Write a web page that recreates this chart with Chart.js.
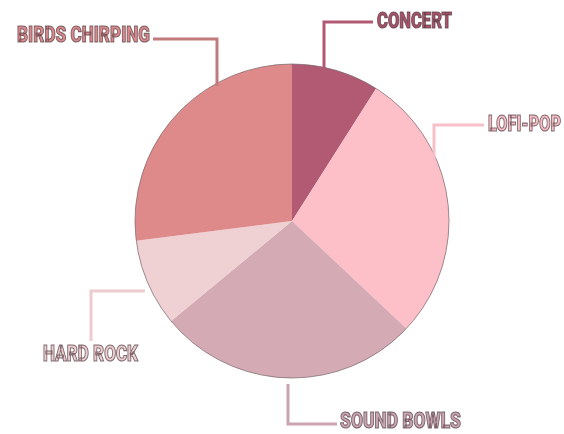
<!DOCTYPE html>
<html>
<head>
<meta charset="utf-8">
<script src="https://cdn.jsdelivr.net/npm/chart.js@4"></script>
<style>
  html, body { margin: 0; padding: 0; background: #fff; }
  #wrap { width: 564px; height: 434px; }
</style>
</head>
<body>
<div id="wrap"><canvas id="pieChart" width="564" height="434"></canvas></div>
<script>
let chartInstance;

const soundNames = ['CONCERT', 'LOFI-POP', 'SOUND BOWLS', 'HARD ROCK', 'BIRDS CHIRPING'];
const soundShares = [9, 28, 27, 9, 27];
const sliceColors = ['#b25a74', '#fdbfc8', '#d4aab5', '#efd0d3', '#df8a8a'];
const lineColors = ['#b25a74', '#f7bfc8', '#c9a5b1', '#ecccd0', '#c27b7d'];
const textColors = ['#a9516b', '#f4bcc5', '#caa6b2', '#eccdd1', '#da898d'];

// label text anchor (left, middle), width it is squeezed to, elbow connector
const labelLayout = [
    { text: [377, 21], width: 75, path: [[324, 70], [324, 22], [373, 22]] },
    { text: [488, 124], width: 73, path: [[434, 160], [434, 125], [484, 125]] },
    { text: [340, 421], width: 121, path: [[288, 384], [288, 424], [337, 424]] },
    { text: [43, 354], width: 95, path: [[145, 291], [91, 291], [91, 341]] },
    { text: [17, 35], width: 133, path: [[217, 86], [217, 39], [153, 39]] }
];

const calloutPlugin = {
    id: 'callouts',
    afterDatasetsDraw(chart) {
        const ctx = chart.ctx;
        const arc = chart.getDatasetMeta(0).data[0];
        ctx.save();
        // thin outline round the pie
        ctx.beginPath();
        ctx.arc(arc.x, arc.y, arc.outerRadius, 0, Math.PI * 2);
        ctx.strokeStyle = 'rgba(120, 100, 105, 0.7)';
        ctx.lineWidth = 1;
        ctx.stroke();

        chart.data.labels.forEach((name, i) => {
            const lay = labelLayout[i];
            ctx.beginPath();
            lay.path.forEach((p, j) => j ? ctx.lineTo(p[0], p[1]) : ctx.moveTo(p[0], p[1]));
            ctx.strokeStyle = lineColors[i];
            ctx.lineWidth = 3;
            ctx.lineJoin = 'miter';
            ctx.stroke();

            ctx.save();
            ctx.font = '900 22px Roboto, "DejaVu Sans", sans-serif';
            ctx.textBaseline = 'middle';
            ctx.textAlign = 'left';
            const sx = lay.width / ctx.measureText(name).width;
            ctx.translate(lay.text[0], lay.text[1] + 1);
            ctx.scale(sx, 1);
            ctx.fillStyle = textColors[i];
            ctx.fillText(name, 0, 0);
            ctx.strokeStyle = 'rgba(85, 65, 70, 0.75)';
            ctx.lineWidth = 1.1;
            ctx.strokeText(name, 0, 0);
            ctx.restore();
        });
        ctx.restore();
    }
};

function createChart(ctx) {
    return new Chart(ctx, {
        type: 'pie',
        data: {
            labels: soundNames,
            datasets: [{
                data: soundShares,
                backgroundColor: sliceColors,
                borderWidth: 0
            }]
        },
        options: {
            responsive: false,
            animation: false,
            layout: { padding: { top: 64, bottom: 56, left: 135, right: 115 } },
            plugins: {
                legend: { display: false },
                tooltip: { enabled: false }
            }
        },
        plugins: [calloutPlugin]
    });
}

document.addEventListener('DOMContentLoaded', () => {
    const ctx = document.getElementById('pieChart').getContext('2d');
    chartInstance = createChart(ctx);
});
</script>
</body>
</html>
